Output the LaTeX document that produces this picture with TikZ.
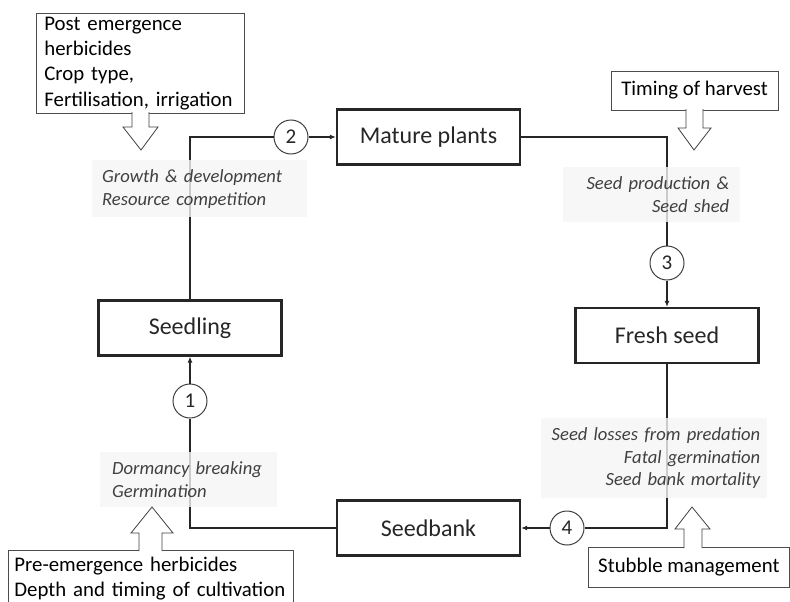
\documentclass[tikz,border=0pt]{standalone}
\usepackage{fontspec}
\setmainfont{Carlito}
\usetikzlibrary{arrows.meta}

\begin{document}
\begin{tikzpicture}[x=1pt,y=-1pt,
  stage/.style={draw=black!85,line width=2.2pt,minimum width=183pt,minimum height=55pt,
    font=\fontsize{24}{29}\selectfont,text=black!85},
  num/.style={circle,draw=black!75,line width=1pt,minimum size=34pt,inner sep=0pt,
    font=\fontsize{21}{24}\selectfont,text=black!85},
  note/.style={draw=black!70,line width=0.8pt,fill=white,
    font=\fontsize{20.8}{25.3}\selectfont,text=black},
  proc/.style={fill=black!4,fill opacity=0.8,text opacity=1,text=black!75,
    font=\fontsize{18.6}{22.7}\selectfont\itshape},
  flow/.style={draw=black!85,line width=1.3pt},
  feed/.style={flow,-{Latex[length=6pt,width=5pt]}},
  hollow/.style={draw=black!75,line width=0.8pt,fill=white}]
  \path[use as bounding box,clip] (0,0) rectangle (790,602);

  \node[stage] (mature) at (428.5,137) {Mature plants};
  \node[stage] (seedling) at (190,328) {Seedling};
  \node[stage] (fresh) at (667,335.5) {Fresh seed};
  \node[stage] (seedbank) at (428.5,528) {Seedbank};

  \node[num] (c1) at (190,401) {1};
  \node[num] (c2) at (291,137) {2};
  \node[num] (c3) at (667,263) {3};
  \node[num] (c4) at (567,528) {4};

  \draw[flow] (seedbank.west) -| (c1);
  \draw[feed] (c1) -- (seedling);
  \draw[flow] (seedling.north) |- (c2);
  \draw[feed] (c2) -- (mature);
  \draw[flow] (mature.east) -| (c3);
  \draw[feed] (c3) -- (fresh);
  \draw[flow] (fresh.south) |- (c4);
  \draw[feed] (c4) -- (seedbank);

  \node[proc,anchor=north west,text width=195pt,inner xsep=10pt,minimum height=57pt,
    align=left] (growth) at (92,160) {Growth \& development\\Resource competition};
  \node[proc,anchor=north west,text width=155pt,inner xsep=11pt,minimum height=55pt,
    align=right] (shed) at (563,167) {Seed production \&\\Seed shed};
  \node[proc,anchor=north west,text width=212pt,inner xsep=7pt,minimum height=80pt,
    align=right] (losses) at (541,418)
    {Seed losses from predation\\Fatal germination\\Seed bank mortality};
  \node[proc,anchor=north west,text width=153pt,inner xsep=12pt,minimum height=55pt,
    align=left] (dormancy) at (100,452) {Dormancy breaking\\Germination};

  \node[note,anchor=north west,text width=192pt,inner xsep=8pt,inner ysep=1pt,
    minimum height=100pt,align=left] (post) at (36,13)
    {Post emergence\\herbicides\\Crop type,\\Fertilisation, irrigation};
  \node[note,minimum width=167pt,minimum height=39pt,inner sep=3pt] (harvest)
    at (694.5,90.5) {Timing of harvest};
  \node[note,anchor=east,minimum width=200.5pt,minimum height=40pt] (stubble)
    at (789.5,567) {Stubble management};
  \node[note,anchor=north west,text width=273pt,inner xsep=6pt,inner ysep=2pt,
    minimum height=56pt,align=left] (pre) at (8,550)
    {Pre-emergence herbicides\\Depth and timing of cultivation};

  \draw[hollow] (132,112) -- (132,127) -- (123,127) -- (141,150) -- (158,127)
    -- (149,127) -- (149,112);
  \draw[hollow] (686,109) -- (686,128) -- (678,128) -- (694,150) -- (711,128)
    -- (703,128) -- (703,109);
  \draw[hollow] (139,551) -- (139,533) -- (131,533) -- (152,507) -- (173,533)
    -- (162,533) -- (162,551);
  \draw[hollow] (684,548) -- (684,529) -- (675,529) -- (692,507) -- (710,529)
    -- (702,529) -- (702,548);
\end{tikzpicture}
\end{document}
